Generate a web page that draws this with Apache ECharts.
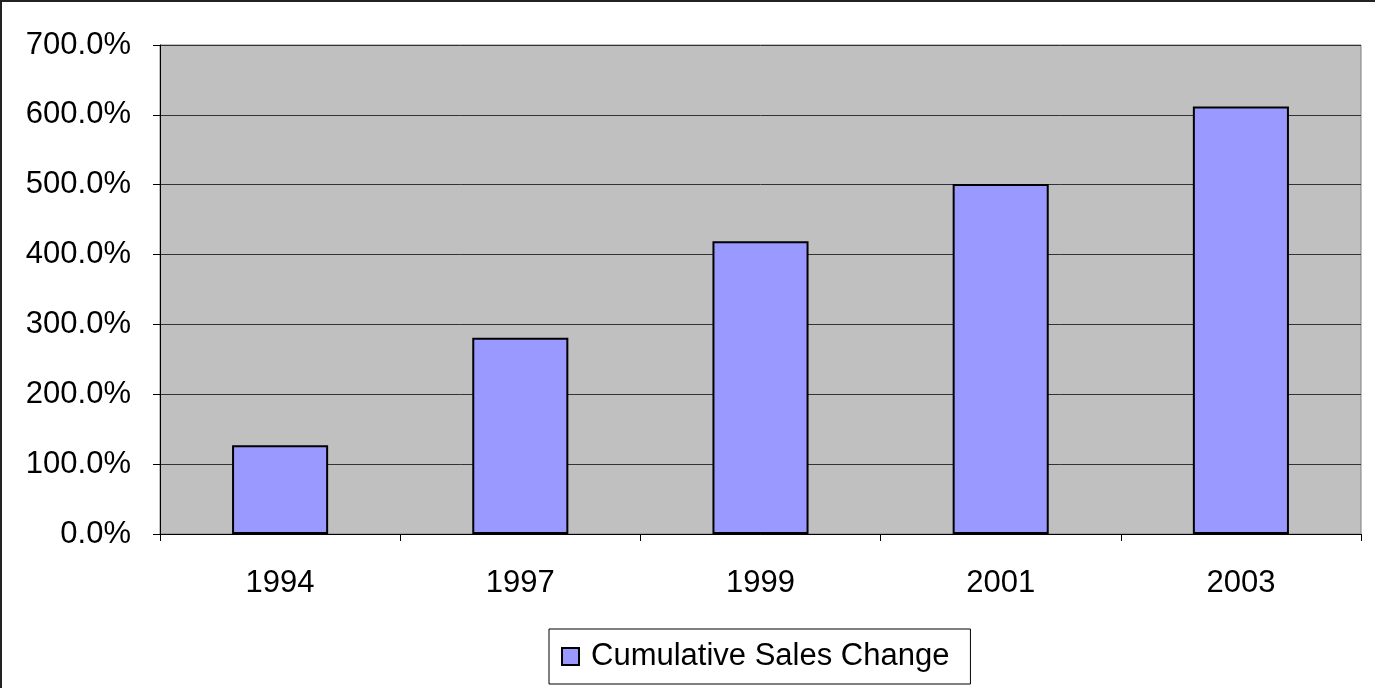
<!DOCTYPE html>
<html>
<head>
<meta charset="utf-8">
<script src="https://cdn.jsdelivr.net/npm/echarts@6/dist/echarts.min.js"></script>
<style>
html,body{margin:0;padding:0;background:#fff;overflow:hidden;}
#frame{position:absolute;left:0;top:0;width:1390px;height:700px;border-left:2px solid #222;border-top:2px solid #222;box-sizing:border-box;}
#chart{position:absolute;left:0;top:0;width:1375px;height:688px;}
</style>
</head>
<body>
<div id="frame"></div>
<div id="chart"></div>
<script>
const categories = ['1994', '1997', '1999', '2001', '2003'];
const seriesName = 'Cumulative Sales Change';
const values = [127, 281, 419, 501, 612];

const chart = echarts.init(document.getElementById('chart'));
const font = 'Liberation Sans, Arial, sans-serif';
chart.setOption({
  animation: false,
  grid: {
    left: 160, right: 14, top: 45, bottom: 154,
    show: true, backgroundColor: '#C0C0C0', borderColor: '#808080', borderWidth: 1
  },
  xAxis: {
    type: 'category',
    data: categories,
    axisLine: { show: true, lineStyle: { color: '#000', width: 1 } },
    axisTick: { show: true, length: 7, alignWithLabel: false, lineStyle: { color: '#000' } },
    axisLabel: { color: '#000', fontSize: 31, fontFamily: font, margin: 34 },
    splitLine: { show: false }
  },
  yAxis: {
    type: 'value',
    min: 0, max: 700, interval: 100,
    axisLine: { show: true, lineStyle: { color: '#000', width: 1 } },
    axisTick: { show: true, length: 7, lineStyle: { color: '#000' } },
    axisLabel: {
      color: '#000', fontSize: 31, fontFamily: font, margin: 29,
      formatter: v => v.toFixed(1) + '%'
    },
    splitLine: { show: true, lineStyle: { color: '#333', width: 1 } }
  },
  legend: {
    show: true,
    left: 549, top: 629,
    data: [seriesName],
    icon: 'rect',
    itemWidth: 17, itemHeight: 17,
    padding: [12, 21, 12, 12],
    borderColor: '#000', borderWidth: 1,
    textStyle: { color: '#000', fontSize: 31, fontFamily: font, padding: [0, 0, 0, 7] }
  },
  series: [{
    name: seriesName,
    type: 'bar',
    data: values,
    barWidth: '40%',
    itemStyle: { color: '#9999FF', borderColor: '#000', borderWidth: 2 }
  }]
});
</script>
</body>
</html>
